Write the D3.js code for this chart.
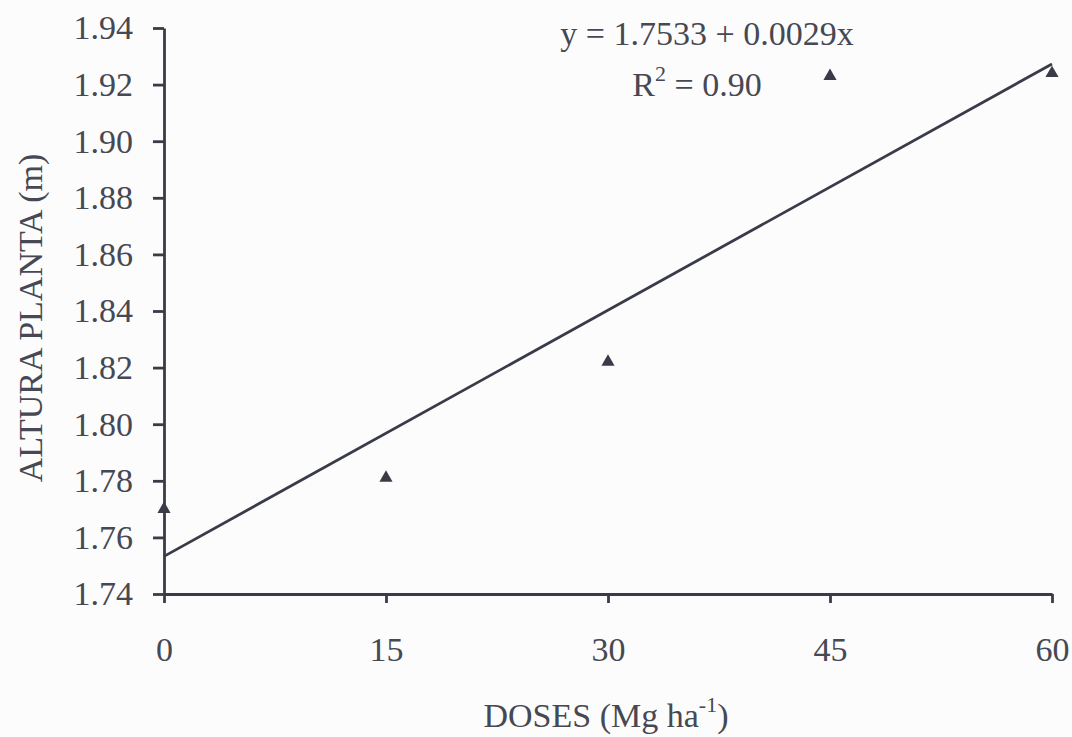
<!DOCTYPE html>
<html>
<head>
<meta charset="utf-8">
<script src="https://cdn.jsdelivr.net/npm/d3@7"></script>
<style>
  body { margin: 0; background: #fcfcfc; }
  text { font-family: "Liberation Serif", "Times New Roman", serif; fill: #464853; }
  .axis path, .axis line { stroke: #393c48; stroke-width: 2.8; }
</style>
</head>
<body>
<svg id="chart"></svg>
<script>

const doses = [0, 15, 30, 45, 60];
const altura = [1.770, 1.781, 1.822, 1.923, 1.924];
const xTicks = [0, 15, 30, 45, 60];
const yTicks = [1.74, 1.76, 1.78, 1.80, 1.82, 1.84, 1.86, 1.88, 1.90, 1.92, 1.94];
const fit = {a: 1.7533, b: 0.0029};

const W = 1072, H = 737;
const margin = {top : 28, right : 20, bottom : 143, left : 164},
	width = 1052 - margin.left,
	height = 594 - margin.top;

const svg = d3.select("#chart")
	.attr("width", W)
	.attr("height", H);

const g = svg.append("g")
	.attr("transform", "translate(" + margin.left + "," + margin.top + ")");

const xScale = d3.scaleLinear().domain([0, 60]).range([0, width]),
	yScale = d3.scaleLinear().domain([1.74, 1.94]).range([height, 0]);

g.append("g")
	.attr("class", "x axis")
	.attr("transform", "translate(0," + height + ")")
	.call(d3.axisBottom(xScale).tickValues(xTicks).tickSize(9).tickSizeOuter(0).tickPadding(34))
	.call(s => s.selectAll("text").attr("font-size", "34px"));

g.append("g")
	.attr("class", "y axis")
	.call(d3.axisLeft(yScale).tickValues(yTicks).tickFormat(d3.format(".2f")).tickSize(11).tickSizeOuter(0).tickPadding(20))
	.call(s => s.selectAll("text").attr("font-size", "34px"));

// regression line
const line = d3.line()
	.x(d => xScale(d))
	.y(d => yScale(fit.a + fit.b * d));

g.append("path")
	.datum([0, 60])
	.attr("d", line)
	.attr("fill", "none")
	.attr("stroke", "#393c48")
	.attr("stroke-width", 2.8);

// points
g.selectAll(".pt")
	.data(doses.map((d, i) => ({x: d, y: altura[i]})))
	.enter()
	.append("path")
	.attr("class", "pt")
	.attr("d", d3.symbol(d3.symbolTriangle, 75))
	.attr("transform", d => "translate(" + xScale(d.x) + "," + yScale(d.y) + ")")
	.attr("fill", "#393c48");

// equation
svg.append("text")
	.attr("x", 707)
	.attr("y", 45)
	.attr("text-anchor", "middle")
	.attr("font-size", "34px")
	.text("y = 1.7533 + 0.0029x");

const r2 = svg.append("text")
	.attr("x", 697)
	.attr("y", 96)
	.attr("text-anchor", "middle")
	.attr("font-size", "34px");
r2.append("tspan").text("R");
r2.append("tspan").attr("dy", -15).attr("font-size", "22px").text("2");
r2.append("tspan").attr("dy", 15).text(" = 0.90");

// axis titles
svg.append("text")
	.attr("transform", "translate(42,318) rotate(-90)")
	.attr("text-anchor", "middle")
	.attr("font-size", "34px")
	.text("ALTURA PLANTA (m)");

const xt = svg.append("text")
	.attr("x", 606)
	.attr("y", 727)
	.attr("text-anchor", "middle")
	.attr("font-size", "34px");
xt.append("tspan").text("DOSES (Mg ha");
xt.append("tspan").attr("dy", -15).attr("font-size", "22px").text("-1");
xt.append("tspan").attr("dy", 15).text(")");

</script>
</body>
</html>
